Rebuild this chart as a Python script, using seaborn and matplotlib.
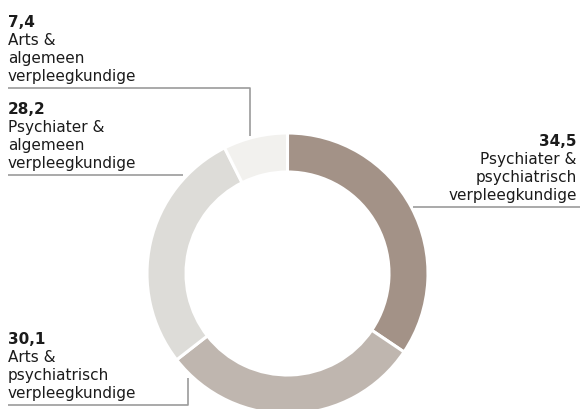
import matplotlib
matplotlib.use("Agg")
import matplotlib.pyplot as plt
import seaborn as sns

# Share per combination (percent), clockwise from 12 o'clock
values = [34.5, 30.1, 28.2, 7.4]
value_labels = ["34,5", "30,1", "28,2", "7,4"]
descriptions = [
    ["Psychiater &", "psychiatrisch", "verpleegkundige"],
    ["Arts &", "psychiatrisch", "verpleegkundige"],
    ["Psychiater &", "algemeen", "verpleegkundige"],
    ["Arts &", "algemeen", "verpleegkundige"],
]
colors = ["#a39287", "#bfb6af", "#dddcd8", "#f2f1ee"]

sns.set_theme(style="white")
plt.rcParams["font.family"] = ["DejaVu Sans"]

W, H = 580, 409
fig = plt.figure(figsize=(W / 100, H / 100), dpi=100)
ax = fig.add_axes([0, 0, 1, 1])

# Donut, positioned in pixel units (y measured from the top)
cx, cy, r_out, ring = 287.5, 273.5, 140.5, 39
ax.pie(values, colors=sns.color_palette(colors), startangle=90, counterclock=False,
       center=(cx, H - cy), radius=r_out,
       wedgeprops=dict(width=ring, edgecolor="white", linewidth=2.2))
ax.set_xlim(0, W)
ax.set_ylim(0, H)
ax.set_aspect("equal")
ax.axis("off")

line_kw = dict(color="#9b9b9b", lw=1.2, solid_capstyle="butt")
text_color = "#1b1b1b"
fs = 11.0
pitch = 18


def label(idx, x, line_y, ha, leader):
    """Number + description stacked above a leader line (y from the top)."""
    lines = [value_labels[idx]] + descriptions[idx]
    last = line_y - 7
    for k, txt in enumerate(lines):
        base = last - (len(lines) - 1 - k) * pitch
        ax.text(x, H - base, txt, ha=ha, va="baseline", fontsize=fs,
                color=text_color, fontweight="semibold" if k == 0 else "normal")
    xs, ys = zip(*leader)
    ax.plot(xs, [H - y for y in ys], **line_kw)


label(3, 8, 88, "left", [(8, 88), (250, 88), (250, 136)])
label(2, 8, 175, "left", [(8, 175), (183, 175)])
label(0, 577, 207, "right", [(580, 207), (413, 207)])
label(1, 8, 405, "left", [(8, 405), (188, 405), (188, 378)])

fig.savefig("out.png", dpi=100, facecolor="white")
